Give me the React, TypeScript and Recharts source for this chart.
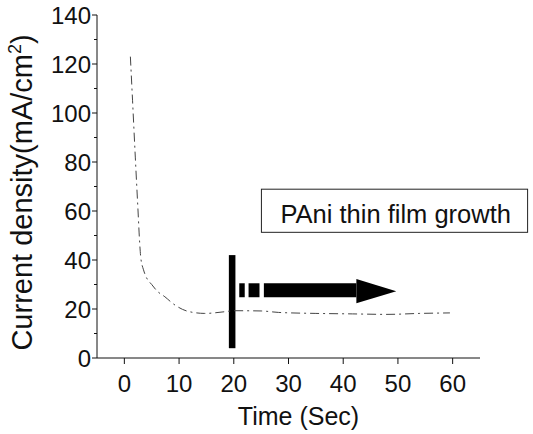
import { LineChart, Line, XAxis, YAxis, ReferenceArea, Label } from "recharts";

// time (s) vs current density (mA/cm2)
const times = [1.1, 1.5, 2.0, 2.5, 2.8, 3.0, 3.5, 4.0, 5.0, 6.0, 7.4, 9.0, 11.7, 14.7, 18.4, 20.0, 25.0, 28.2, 35.0, 41.7, 48.0, 54.0, 59.5];
const currentDensity = [123, 105, 82, 60, 47, 41, 36, 33, 30, 27.3, 25, 22, 19, 18.2, 18.9, 19.3, 19.2, 18.6, 18.2, 18.0, 17.8, 18.2, 18.4];

const xTicks = [0, 10, 20, 30, 40, 50, 60];
const yTicks = [0, 10, 20, 30, 40, 50, 60, 70, 80, 90, 100, 110, 120, 130, 140];

// annotation extents in data units
const markerX = [19.1, 20.3];
const markerY = [4, 42];
const arrowDashes = [
  [21.0, 22.0],
  [22.7, 24.7],
];
const arrowBodyX = [25.5, 42.4];
const arrowBodyY = [24.8, 30.5];
const arrowHeadX = [42.4, 49.7];
const arrowHeadY = [22.3, 32.2];
const noteX = [25.05, 73.7];
const noteY = [51.3, 68.9];
const noteText = "PAni thin film growth";

const FONT = "'Liberation Sans', Arial, sans-serif";
const INK = "#111";

const data = times.map((t, i) => ({ t, j: currentDensity[i] }));

function YTick(props: any) {
  const { x, y, payload } = props;
  const axisX = x + 6;
  const major = payload.value % 20 === 0;
  return (
    <g>
      <line x1={axisX - (major ? 5 : 3)} x2={axisX} y1={y} y2={y} stroke={INK} strokeWidth={1} />
      {major && (
        <text x={x} y={y} dy="0.355em" textAnchor="end" fontSize={24} fontFamily={FONT} fill={INK}>
          {payload.value}
        </text>
      )}
    </g>
  );
}

function ArrowHead(props: any) {
  const { x, y, width, height } = props;
  return <polygon points={`${x},${y} ${x + width},${y + height / 2} ${x},${y + height}`} fill="#000" />;
}

function NoteBox(props: any) {
  const { x, y, width, height } = props;
  return (
    <g>
      <rect x={x} y={y} width={width} height={height} fill="#fff" stroke="#222" strokeWidth={1} />
      <text x={x + 19} y={y + 34} fontSize={25.5} fontFamily={FONT} fill={INK}>
        {noteText}
      </text>
    </g>
  );
}

export default function App() {
  return (
    <div style={{ position: "absolute", left: 0, top: 0, background: "#fff" }}>
      <LineChart width={533} height={434} data={data} margin={{ top: 15, right: 53, left: 0, bottom: 0 }}>
        <XAxis
          dataKey="t"
          type="number"
          domain={[-5, 65]}
          ticks={xTicks}
          tickSize={6}
          tickMargin={11}
          height={76}
          stroke={INK}
          tick={{ fontSize: 24, fontFamily: FONT, fill: INK }}
        >
          <Label
            content={(p: any) => {
              const vb = p.viewBox;
              return (
                <text x={vb.x + vb.width / 2 + 10} y={vb.y + 67} textAnchor="middle" fontSize={25} fontFamily={FONT} fill={INK}>
                  Time (Sec)
                </text>
              );
            }}
          />
        </XAxis>
        <YAxis
          type="number"
          domain={[0, 140]}
          ticks={yTicks}
          interval={0}
          width={97}
          tickSize={5}
          tickMargin={1}
          tickLine={false}
          stroke={INK}
          tick={<YTick />}
        >
          <Label
            content={(p: any) => {
              const vb = p.viewBox;
              const cx = vb.x + 32;
              const cy = vb.y + vb.height / 2 + 6;
              return (
                <text
                  x={cx}
                  y={cy}
                  transform={`rotate(-90, ${cx}, ${cy})`}
                  textAnchor="middle"
                  fontSize={29}
                  fontFamily={FONT}
                  fill={INK}
                >
                  Current density(mA/cm
                  <tspan fontSize={18} dy={-11}>2</tspan>
                  <tspan dy={11}>)</tspan>
                </text>
              );
            }}
          />
        </YAxis>
        <Line
          type="monotone"
          dataKey="j"
          stroke="#444"
          strokeWidth={1}
          strokeDasharray="9 4 2 4"
          dot={false}
          isAnimationActive={false}
        />
        <ReferenceArea x1={noteX[0]} x2={noteX[1]} y1={noteY[0]} y2={noteY[1]} ifOverflow="visible" shape={<NoteBox />} />
        <ReferenceArea x1={markerX[0]} x2={markerX[1]} y1={markerY[0]} y2={markerY[1]} fill="#000" fillOpacity={1} stroke="none" />
        {arrowDashes.map(([a, b], i) => (
          <ReferenceArea key={i} x1={a} x2={b} y1={arrowBodyY[0]} y2={arrowBodyY[1]} fill="#000" fillOpacity={1} stroke="none" />
        ))}
        <ReferenceArea x1={arrowBodyX[0]} x2={arrowBodyX[1]} y1={arrowBodyY[0]} y2={arrowBodyY[1]} fill="#000" fillOpacity={1} stroke="none" />
        <ReferenceArea x1={arrowHeadX[0]} x2={arrowHeadX[1]} y1={arrowHeadY[0]} y2={arrowHeadY[1]} shape={<ArrowHead />} />
      </LineChart>
    </div>
  );
}
